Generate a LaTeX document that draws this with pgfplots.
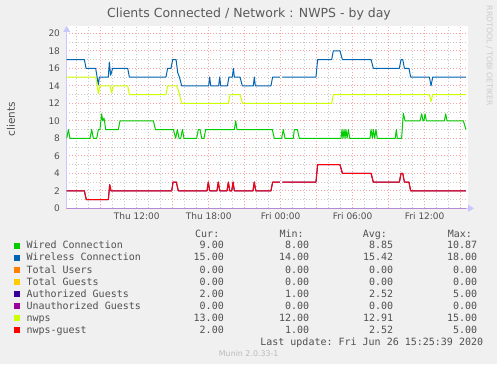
\documentclass[border=0pt]{standalone}
\usepackage{pgfplots}
\pgfplotsset{compat=1.18}
\usepackage{fontspec}
\setmainfont{DejaVu Sans}
\setmonofont{DejaVu Sans Mono}
\usetikzlibrary{arrows.meta}
\definecolor{bgcol}{HTML}{F0F0F0}
\definecolor{txtcol}{HTML}{505050}
\definecolor{titcol}{HTML}{5A5A5A}
\definecolor{rrdcol}{HTML}{CCCCCC}
\definecolor{muncol}{HTML}{BBBBBB}
\definecolor{majcol}{HTML}{FFA0A0}
\definecolor{mincol}{HTML}{C8C8C8}
\definecolor{axiscol}{HTML}{C8C8FF}
\definecolor{zerocol}{HTML}{B888D8}
\definecolor{cwired}{HTML}{00CC00}
\definecolor{cwireless}{HTML}{0066B3}
\definecolor{cusers}{HTML}{FF8000}
\definecolor{cguests}{HTML}{FFCC00}
\definecolor{cauth}{HTML}{330099}
\definecolor{cunauth}{HTML}{990099}
\definecolor{cnwps}{HTML}{CCFF00}
\definecolor{cguest}{HTML}{FF0000}
\newcommand{\legfont}{\fontsize{10}{12}\ttfamily}
\newcommand{\legrow}[7]{%
  \fill[#2] (14pt,{(#1+0.5)*1pt}) rectangle (20pt,{(#1+6.3)*1pt});
  \node[anchor=base west,inner sep=0pt,font=\legfont,text=txtcol] at (26.3pt,#1pt) {#3};
  \node[anchor=base east,inner sep=0pt,font=\legfont,text=txtcol] at (224pt,#1pt) {#4};
  \node[anchor=base east,inner sep=0pt,font=\legfont,text=txtcol] at (309.3pt,#1pt) {#5};
  \node[anchor=base east,inner sep=0pt,font=\legfont,text=txtcol] at (393.3pt,#1pt) {#6};
  \node[anchor=base east,inner sep=0pt,font=\legfont,text=txtcol] at (477.3pt,#1pt) {#7};
}
\begin{document}
\begin{tikzpicture}
\fill[bgcol] (0,0) rectangle (497pt,364pt);
\begin{axis}[
  at={(66pt,155.7pt)}, anchor=south west,
  scale only axis, width=402pt, height=182.3pt,
  xmin=6.11, xmax=39.61, ymin=0, ymax=20.83,
  clip=false,
  unbounded coords=jump,
  axis line style={draw=none},
  axis background/.style={fill=white},
  major tick length=0pt, minor tick length=0pt,
  tick style={draw=none},
  xtick={9,15,18,21,24,27,30,33,36,39},
  xticklabels={},
  minor xtick={7,8,...,39},
  extra x ticks={12,18,24,30,36},
  extra x tick labels={Thu 12:00,Thu 18:00,Fri 00:00,Fri 06:00,Fri 12:00},
  extra x tick style={grid=none},
  ytick={0,2,...,20},
  minor ytick={1,3,...,19},
  grid=both,
  minor grid style={draw=mincol, line width=0.8pt, dash pattern=on 1pt off 2pt},
  major grid style={draw=majcol, line width=0.8pt, dash pattern=on 1pt off 2pt},
  ticklabel style={font=\fontsize{9}{10}\selectfont, text=txtcol},
  /pgf/number format/assume math mode=true,
  xticklabel style={yshift=-0.7pt},
  yticklabel style={xshift=-2.5pt},
  every axis plot/.append style={line width=1pt, line join=round},
]
\draw[axiscol, line width=1pt, -{Triangle[length=6pt,width=7pt]}] (axis cs:6.17,0) -- (axis cs:6.17,20.83);
\draw[axiscol, line width=1pt, -{Triangle[length=6pt,width=7pt]}] (axis cs:6.17,0) -- (axis cs:40.11,0);
% Wired Connection
\addplot[cwired] coordinates {
(6.17,8) (6.31,9) (6.44,8) (8.11,8) (8.25,9) (8.39,8) (8.67,8) (8.81,9) (8.94,9)
(9.08,10.8) (9.17,10) (9.28,10.3) (9.42,9) (10.47,9) (10.61,10) (13.39,10) (13.56,9)
(15.06,9) (15.25,8) (15.39,9) (15.53,8) (15.67,8) (15.81,9) (15.94,8) (17.0,8)
(17.14,9) (17.28,9) (17.42,8) (17.61,8) (17.75,9) (20.14,9) (20.25,10) (20.36,9)
(23.3,9) (23.47,8) (24.08,8) (24.22,9) (24.36,8) (25.05,8) (25.14,9) (25.39,9) (25.55,8)
(29.03,8) (29.11,9) (29.19,8) (29.28,9) (29.36,8) (29.44,9) (29.53,8) (29.64,9) (29.75,8)
(31.44,8) (31.53,9) (31.64,8) (31.72,9) (31.83,8) (31.94,9) (32.05,8)
(33.55,8) (33.64,9) (33.72,8) (34.08,8) (34.22,10.87) (34.36,10) (35.61,10) (35.75,10.8)
(35.86,10) (35.94,10) (36.03,10.8) (36.14,10) (37.64,10) (37.75,10.8) (37.86,10)
(39.22,10) (39.44,9)
};
% Wireless Connection
\addplot[cwireless] coordinates {
(6.17,17) (7.64,17) (7.78,16) (8.58,16) (8.81,14.1) (8.89,15) (9.64,15) (9.72,16.7)
(9.83,15.2) (10.0,16) (11.25,16) (11.39,15) (14.44,15) (14.58,16) (14.86,16) (15.0,17)
(15.28,17) (15.42,15.5) (15.56,15) (15.75,14) (18.0,14) (18.08,15) (18.17,14) (18.83,14)
(18.92,15) (19.0,14) (19.56,14) (19.69,15) (19.97,15) (20.06,16) (20.14,15) (20.61,15)
(20.8,14) (21.72,14) (21.8,15) (21.89,14) (23.19,14) (23.33,15) (23.94,15) (24.04,nan)
(24.14,15) (26.94,15) (27.08,17) (28.25,17) (28.39,18) (28.94,18) (29.14,17) (31.53,17)
(31.72,16) (33.89,16) (34.03,17) (34.17,17) (34.31,16) (34.69,16) (34.83,15) (36.39,15)
(36.53,14) (36.67,15) (39.44,15)
};
% Total Users, Total Guests
\addplot[cusers] coordinates {(6.17,0) (39.44,0)};
\addplot[cguests] coordinates {(6.17,0) (39.44,0)};
% Authorized Guests
\addplot[cauth] coordinates {
(6.17,2) (7.64,2) (7.8,1) (9.64,1) (9.75,2.7) (9.86,2) (14.92,2) (15.03,3) (15.3,3)
(15.47,2) (17.86,2) (17.97,3) (18.08,2) (18.69,2) (18.8,3) (18.92,2) (19.53,2) (19.64,3)
(19.75,2) (19.92,2) (20.03,3) (20.14,2) (21.69,2) (21.8,3) (21.92,2) (23.19,2) (23.33,3)
(23.94,3) (24.04,nan) (24.14,3) (26.94,3) (27.08,5) (28.94,5) (29.14,4) (31.53,4) (31.72,3)
(33.89,3) (34.03,4) (34.17,4) (34.31,3) (34.69,3) (34.83,2) (39.44,2)
};
% Unauthorized Guests
\addplot[zerocol] coordinates {(6.17,0) (39.44,0)};
% nwps
\addplot[cnwps] coordinates {
(6.17,15) (8.58,15) (8.81,13.1) (8.94,14) (9.78,14) (9.92,13.2) (10.06,14) (11.25,14)
(11.39,13) (14.44,13) (14.58,14) (15.33,14) (15.47,13.5) (15.75,12) (19.64,12) (19.78,13)
(20.61,13) (20.81,12) (28.25,12) (28.39,13) (36.39,13) (36.53,12.2) (36.67,13) (39.44,13)
};
% nwps-guest
\addplot[cguest] coordinates {
(6.17,2) (7.64,2) (7.8,1) (9.64,1) (9.75,2.7) (9.86,2) (14.92,2) (15.03,3) (15.3,3)
(15.47,2) (17.86,2) (17.97,3) (18.08,2) (18.69,2) (18.8,3) (18.92,2) (19.53,2) (19.64,3)
(19.75,2) (19.92,2) (20.03,3) (20.14,2) (21.69,2) (21.8,3) (21.92,2) (23.19,2) (23.33,3)
(23.94,3) (24.04,nan) (24.14,3) (26.94,3) (27.08,5) (28.94,5) (29.14,4) (31.53,4) (31.72,3)
(33.89,3) (34.03,4) (34.17,4) (34.31,3) (34.69,3) (34.83,2) (39.44,2)
};
\end{axis}
% Title and labels
\node[font=\fontsize{12.5}{14}\selectfont, text=titcol] at (249pt,350pt) {Clients Connected / Network : NWPS - by day};
\node[rotate=90, font=\fontsize{10.5}{12}\selectfont, text=txtcol] at (11pt,245pt) {clients};
\node[rotate=-90, font=\fontsize{7.8}{9}\selectfont, text=rrdcol] at (489.5pt,308pt) {RRDTOOL / TOBI OETIKER};
% Legend
\node[anchor=base west,inner sep=0pt,font=\legfont,text=txtcol] at (195pt,126.7pt) {Cur:};
\node[anchor=base west,inner sep=0pt,font=\legfont,text=txtcol] at (279.3pt,126.7pt) {Min:};
\node[anchor=base west,inner sep=0pt,font=\legfont,text=txtcol] at (362.7pt,126.7pt) {Avg:};
\node[anchor=base west,inner sep=0pt,font=\legfont,text=txtcol] at (447.7pt,126.7pt) {Max:};
\legrow{115}{cwired}{Wired Connection}{9.00}{8.00}{8.85}{10.87}
\legrow{103}{cwireless}{Wireless Connection}{15.00}{14.00}{15.42}{18.00}
\legrow{91}{cusers}{Total Users}{0.00}{0.00}{0.00}{0.00}
\legrow{79}{cguests}{Total Guests}{0.00}{0.00}{0.00}{0.00}
\legrow{67}{cauth}{Authorized Guests}{2.00}{1.00}{2.52}{5.00}
\legrow{55}{cunauth}{Unauthorized Guests}{0.00}{0.00}{0.00}{0.00}
\legrow{43}{cnwps}{nwps}{13.00}{12.00}{12.91}{15.00}
\legrow{31}{cguest}{nwps-guest}{2.00}{1.00}{2.52}{5.00}
\node[anchor=base east,inner sep=0pt,font=\legfont,text=txtcol] at (483.3pt,19pt) {Last update:\ Fri Jun 26 15:25:39 2020};
\node[anchor=base,inner sep=0pt,font=\fontsize{7.9}{9}\selectfont,text=muncol] at (248.7pt,8pt) {Munin 2.0.33-1};
\pgfresetboundingbox
\path[use as bounding box] (0,0) rectangle (497pt,364pt);
\end{tikzpicture}
\end{document}
